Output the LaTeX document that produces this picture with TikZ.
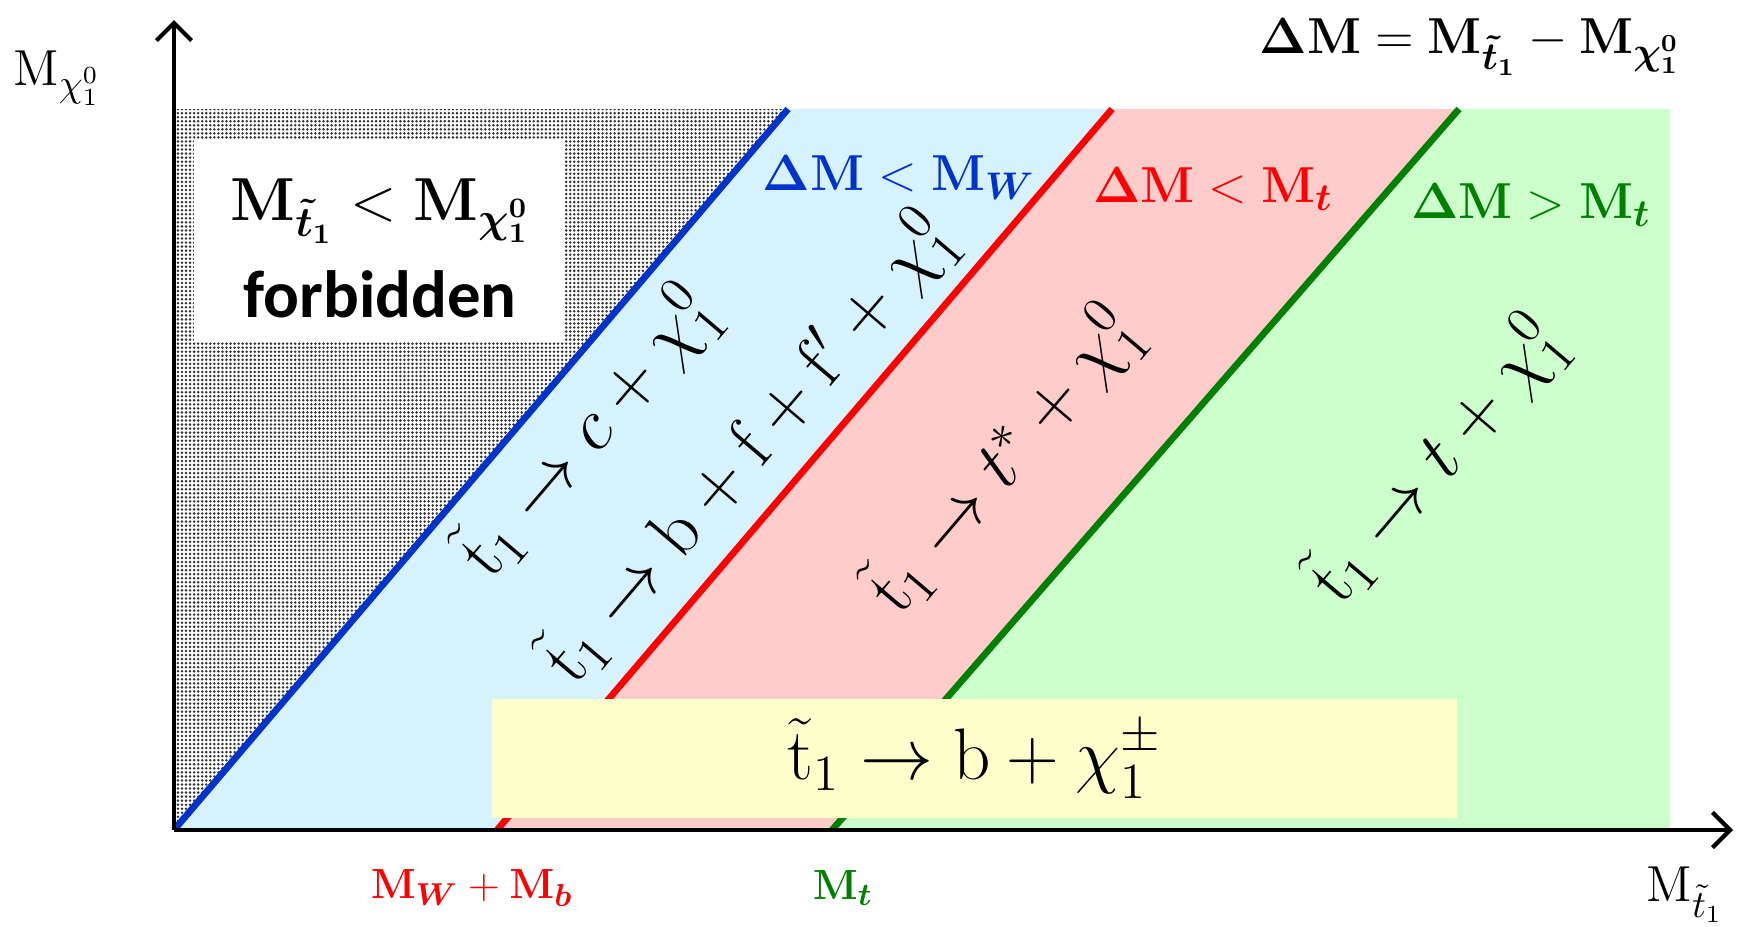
\documentclass[tikz,border=0pt]{standalone}
\usepackage[no-math]{fontspec}
\setmainfont{Carlito}
\usepackage{amsmath}
\usepackage{bm}
\usepackage{tikz}
\usetikzlibrary{positioning,calc,arrows.meta,patterns.meta}

\definecolor{lineblue}{RGB}{0,51,204}
\definecolor{linered}{RGB}{255,0,0}
\definecolor{linegreen}{RGB}{0,128,0}
\definecolor{fillblue}{RGB}{213,242,253}
\definecolor{fillred}{RGB}{255,204,204}
\definecolor{fillgreen}{RGB}{204,255,204}
\definecolor{fillyellow}{RGB}{255,255,204}

\begin{document}
\begin{tikzpicture}[x=0.01cm, y=-0.01cm,
  axisline/.style={line width=1pt, -{Straight Barb[length=5pt,width=10pt,line width=1.2pt]}},
  boundline/.style={line width=1.9pt},
  regionlabel/.style={font=\fontsize{15}{18}\selectfont, inner sep=1pt},
  decaylabel/.style={font=\fontsize{21}{25}\selectfont, rotate=49.6, inner sep=0pt},
  axislabel/.style={font=\fontsize{13}{16}\selectfont, inner sep=1pt}]
\useasboundingbox (0,0) rectangle (1740,926);
\coordinate (O) at (174,830);
\coordinate (ytop) at (174,20);
\coordinate (xtip) at (1733,830);
\coordinate (bluetop) at (788,109);
\coordinate (redbot) at (497,830);
\coordinate (redtop) at (1112,109);
\coordinate (greenbot) at (832,830);
\coordinate (greentop) at (1459,109);
% shaded regions
\fill[fill=gray!25, pattern={Dots[distance=1.15pt,radius=0.4pt]}, pattern color=black!80]
  (O) -- (174,109) -- (bluetop) -- cycle;
\fill[fillblue] (O) -- (bluetop) -- (redtop) -- (redbot) -- cycle;
\fill[fillred] (redbot) -- (redtop) -- (greentop) -- (greenbot) -- cycle;
\fill[fillgreen] (greenbot) -- (greentop) -- (1670,109) -- (1670,830) -- cycle;
% boundaries
\draw[boundline, lineblue] (O) -- (bluetop);
\draw[boundline, linered] (redbot) -- (redtop);
\draw[boundline, linegreen] (greenbot) -- (greentop);
% boxes
\node[fill=white, minimum width=3.7cm, minimum height=2.03cm, inner sep=0pt] (fbox) at (379,240.5) {};
\node[fill=fillyellow, minimum width=9.65cm, minimum height=1.19cm, inner sep=0pt] (ybox) at (974.5,758.5) {};
% axes
\draw[axisline] (O) -- (ytop);
\draw[axisline] (O) -- (xtip);
% texts
\node[font=\fontsize{17}{20}\selectfont] (forbid1) at (380,211)
  {$\mathbf{M}_{\bm{\tilde{t}_1}} < \mathbf{M}_{\bm{\chi_1^0}}$};
\node[font=\fontsize{19}{22}\selectfont\bfseries] (forbid2) at (380,294) {forbidden};
\node[font=\fontsize{15}{18}\selectfont] (dmdef) at (1470,47)
  {$\bm{\Delta}\mathbf{M} = \mathbf{M}_{\bm{\tilde{t}_1}} - \mathbf{M}_{\bm{\chi_1^0}}$};
\node[regionlabel, text=lineblue] (dmw) at (899,178) {$\bm{\Delta}\mathbf{M} < \mathbf{M}_{\bm{W}}$};
\node[regionlabel, text=linered] (dmt) at (1213,189) {$\bm{\Delta}\mathbf{M} < \mathbf{M}_{\bm{t}}$};
\node[regionlabel, text=linegreen] (dmgt) at (1531,205) {$\bm{\Delta}\mathbf{M} > \mathbf{M}_{\bm{t}}$};
\node[decaylabel] (decc) at (588,433) {$\tilde{\mathrm{t}}_1 \to c + \chi_1^0$};
\node[decaylabel] (decb) at (749,449) {$\tilde{\mathrm{t}}_1 \to \mathrm{b} + \mathrm{f} + \mathrm{f}' + \chi_1^0$};
\node[decaylabel] (dects) at (1004,461) {$\tilde{\mathrm{t}}_1 \to t^{*} + \chi_1^0$};
\node[decaylabel] (dect) at (1437,461) {$\tilde{\mathrm{t}}_1 \to t + \chi_1^0$};
\node[font=\fontsize{21}{25}\selectfont] (decch) at (ybox) {$\tilde{\mathrm{t}}_1 \to \mathrm{b} + \chi_1^{\pm}$};
\node[axislabel, text=linered] (mwb) at (472,888) {$\mathbf{M}_{\bm{W}} + \mathbf{M}_{\bm{b}}$};
\node[axislabel, text=linegreen] (mt) at (843,888) {$\mathbf{M}_{\bm{t}}$};
\node[axislabel, font=\fontsize{15}{18}\selectfont] (xlab) at (1685,895) {$\mathrm{M}_{\tilde{t}_1}$};
\node[axislabel, font=\fontsize{15}{18}\selectfont] (ylab) at (57,78) {$\mathrm{M}_{\chi_1^0}$};
\end{tikzpicture}
\end{document}
